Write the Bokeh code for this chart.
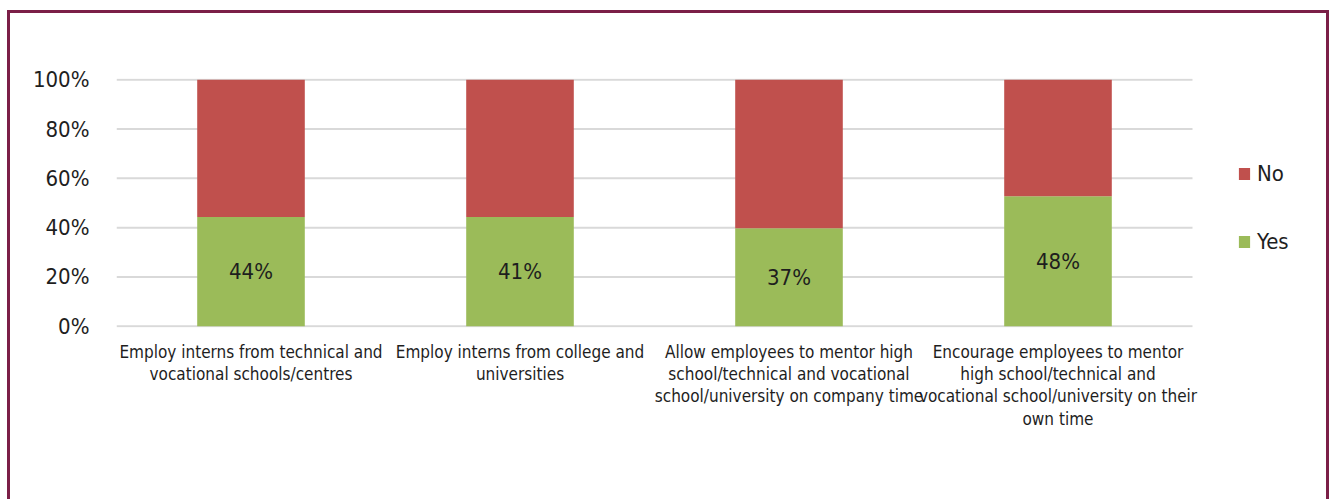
from bokeh.plotting import figure
from bokeh.models import (ColumnDataSource, Range1d, FixedTicker,
                          Legend, LegendItem)
from bokeh.core.properties import value
from bokeh.embed import file_html
from bokeh.resources import INLINE

# ---- data ----
categories = [
    "Employ interns from technical and\nvocational schools/centres",
    "Employ interns from college and\nuniversities",
    "Allow employees to mentor high\nschool/technical and vocational\nschool/university on company time",
    "Encourage employees to mentor\nhigh school/technical and\nvocational school/university on their\nown time",
]
yes_share = [44.3, 44.3, 39.8, 52.7]
no_share = [55.7, 55.7, 60.2, 47.3]
yes_labels = ["44%", "41%", "37%", "48%"]
y_ticks = [0, 20, 40, 60, 80, 100]
y_tick_labels = ["0%", "20%", "40%", "60%", "80%", "100%"]
series = ["yes", "no"]
series_names = ["Yes", "No"]
colors = ["#9BBB59", "#C0504D"]

FONT = "DejaVu Sans Condensed"
TXT = "#1e1e1e"
GRID = "#d9d9d9"

n = len(categories)
xpos = [i + 0.5 for i in range(n)]
src = ColumnDataSource(dict(x=xpos, yes=yes_share, no=no_share,
                            ymid=[v / 2 for v in yes_share], lab=yes_labels))

# plot area of the categories is 1076 px wide; the frame also holds the legend
frame_px, cat_px = 1206, 1076
p = figure(width=1322, height=489, output_backend="svg", toolbar_location=None,
           x_range=Range1d(0, n * frame_px / cat_px), y_range=Range1d(-0.5, 100.5),
           min_border_left=106, min_border_right=10, min_border_top=65,
           min_border_bottom=175, outline_line_color=None)
p.styles = {"margin-left": "7px", "margin-top": "10px",
            "border-left": "3px solid #7b1f47", "border-top": "3px solid #7b1f47",
            "border-right": "3px solid #7b1f47"}

# gridlines limited to the category area
p.xgrid.grid_line_color = None
p.ygrid.grid_line_color = None
p.segment(x0=[0] * len(y_ticks), x1=[n] * len(y_ticks), y0=y_ticks, y1=y_ticks,
          line_color=GRID, line_width=2)

rs = p.vbar_stack(series, x="x", width=0.4, color=colors, line_color=None, source=src)

p.text(x="x", y="ymid", text="lab", source=src, text_align="center",
       text_baseline="middle", text_font=value(FONT), text_font_size="22px",
       text_color=TXT)

# axes
p.yaxis.ticker = FixedTicker(ticks=y_ticks)
p.yaxis.major_label_overrides = {t: l for t, l in zip(y_ticks, y_tick_labels)}
p.yaxis.axis_line_color = None
p.yaxis.major_tick_line_color = None
p.yaxis.minor_tick_line_color = None
p.yaxis.major_tick_out = 0
p.yaxis.major_tick_in = 0
p.yaxis.major_label_standoff = 27
p.yaxis.major_label_text_font = FONT
p.yaxis.major_label_text_font_size = "22px"
p.yaxis.major_label_text_color = TXT

p.xaxis.ticker = FixedTicker(ticks=xpos)
p.xaxis.major_label_overrides = {x: c for x, c in zip(xpos, categories)}
p.xaxis.axis_line_color = None
p.xaxis.major_tick_line_color = None
p.xaxis.minor_tick_line_color = None
p.xaxis.major_tick_out = 0
p.xaxis.major_tick_in = 0
p.xaxis.major_label_standoff = 14
p.xaxis.major_label_text_font = FONT
p.xaxis.major_label_text_font_size = "17px"
p.xaxis.major_label_text_line_height = 1.12
p.xaxis.major_label_text_color = TXT

# legend
legend = Legend(items=[LegendItem(label=series_names[1], renderers=[rs[1]]),
                       LegendItem(label=series_names[0], renderers=[rs[0]])],
                location=(1121, 73), orientation="vertical", spacing=43,
                glyph_width=14, glyph_height=15, label_height=20,
                label_standoff=6, padding=0, margin=0,
                border_line_color=None, background_fill_alpha=0,
                label_text_font=FONT, label_text_font_size="22px",
                label_text_color=TXT)
p.add_layout(legend, "center")

open("out.html", "w").write(file_html(p, INLINE))
